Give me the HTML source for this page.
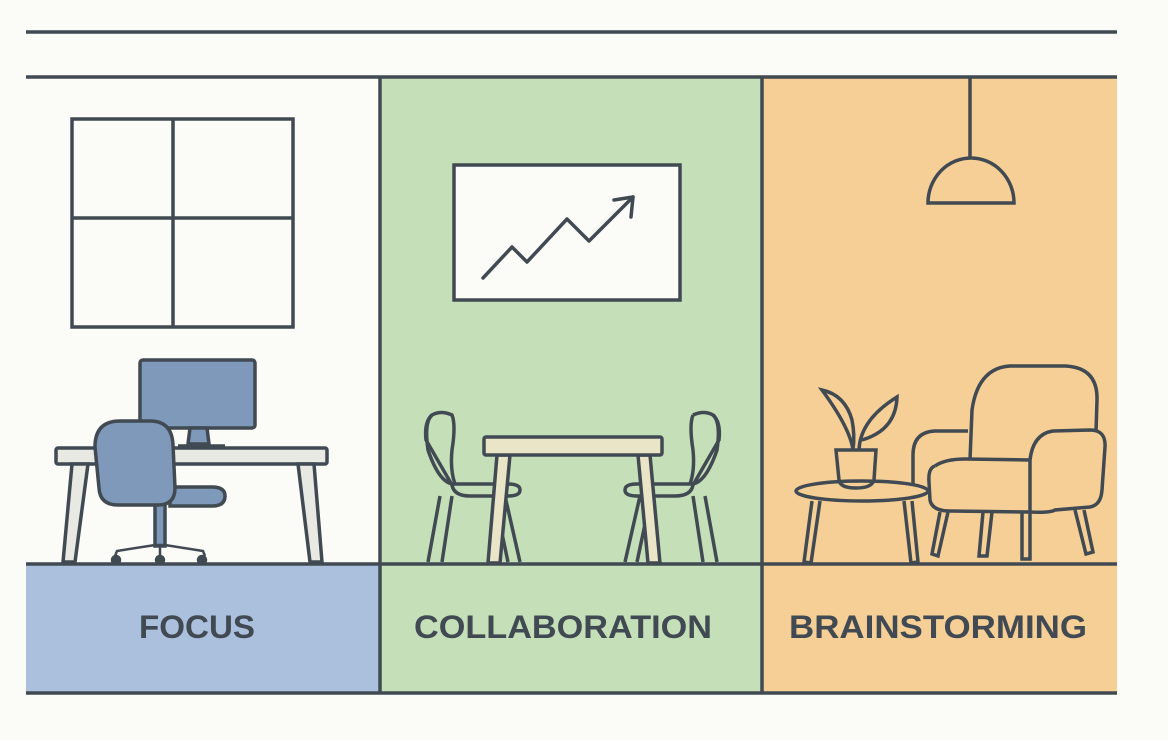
<!DOCTYPE html>
<html><head><meta charset="utf-8"><style>
html,body{margin:0;padding:0;background:#fbfbf7;}
svg{display:block}
text{font-family:"Liberation Sans",sans-serif;font-weight:bold;fill:#414a52;}
</style></head><body>
<svg width="1168" height="740" viewBox="0 0 1168 740" xmlns="http://www.w3.org/2000/svg">
<rect width="1168" height="740" fill="#fbfbf7"/>
<rect x="26" y="564" width="354" height="129" fill="#aac0dc"/>
<rect x="380" y="77" width="382" height="616" fill="#c5e0b8"/>
<rect x="762" y="77" width="355" height="616" fill="#f6cf96"/>
<g stroke="#414a52" stroke-width="3.5" fill="none">
<line x1="26" y1="32" x2="1117" y2="32"/>
<line x1="26" y1="77" x2="1117" y2="77"/>
<line x1="380" y1="77" x2="380" y2="693"/>
<line x1="762" y1="77" x2="762" y2="693"/>
<line x1="26" y1="564" x2="1117" y2="564"/>
<line x1="26" y1="693" x2="1117" y2="693"/>
<rect x="72" y="119" width="221" height="208"/>
<line x1="173" y1="119" x2="173" y2="327"/>
<line x1="72" y1="218" x2="293" y2="218"/>
<rect x="454" y="165" width="226" height="135" fill="#fbfbf7"/>
<polyline points="483,278 512,247 527,262 567,219 589,241 633,197" stroke-linejoin="round" stroke-linecap="round"/>
<polyline points="614,200 633,197 631,217" stroke-linecap="round" stroke-linejoin="round"/>
<line x1="970" y1="77" x2="970" y2="158"/>
<path d="M928,203 A42,44 0 0 1 1014,203 Z"/>
<rect x="140" y="360" width="115" height="68" rx="3" fill="#7f99bb"/>
<path d="M190,428 L207,428 L209,444 L188,444 Z" fill="#7f99bb"/>
<line x1="178" y1="446" x2="225" y2="446"/>
<rect x="56" y="448" width="271" height="16" rx="2" fill="#e8e9e3"/>
<path d="M72,464 L88,464 L75,562 L63,562 Z" fill="#e8e9e3"/>
<path d="M298,464 L314,464 L322,562 L310,562 Z" fill="#e8e9e3"/>
<rect x="155" y="504" width="10" height="42" fill="#7f99bb"/>
<path d="M115,556 L117,551 L155,545 L165,545 L203,551 L205,556 M160,546 L160,556" stroke-width="2.5"/>
<circle cx="116" cy="560" r="3.5" fill="#414a52"/>
<circle cx="160" cy="560" r="3.5" fill="#414a52"/>
<circle cx="202" cy="560" r="3.5" fill="#414a52"/>
<path d="M170,487 L212,487 Q225,487 225,496 Q225,506 212,506 L170,506 Z" fill="#7f99bb"/>
<path d="M120,421 L150,421 Q172,421 173,445 L175,488 Q175,505 158,505 L118,505 Q100,505 99,488 L95,447 Q95,421 120,421 Z" fill="#7f99bb"/>
<path d="M452,415 Q441,410 432,415 Q424,422 426,440 L452,485 Q454,496 470,496 L508,496 Q520,496 520,490 Q520,484 508,484 L455,484 Q450,470 452,450 Q456,425 452,415 Z"/>
<path d="M432,415 Q424,422 428,450 Q440,485 455,484"/>
<path d="M440,496 L428,562 M452,496 L442,562 M505,496 L520,562 M494,496 L508,562"/>
<path d="M693,415 Q704,410 713,415 Q721,422 719,440 L693,485"/>
<path d="M713,415 Q721,422 717,450 Q705,485 690,484 L637,484 Q625,484 625,490 Q625,496 637,496 L675,496 Q691,496 693,485"/>
<path d="M693,415 Q689,425 693,450 Q695,470 690,484"/>
<path d="M705,496 L717,562 M693,496 L703,562 M640,496 L625,562 M651,496 L637,562"/>
<path d="M497,455 L510,455 L500,563 L488,563 Z" fill="#ebe5c8"/>
<path d="M638,455 L650,455 L660,563 L648,563 Z" fill="#ebe5c8"/>
<rect x="484" y="437" width="178" height="18" rx="2" fill="#ebe5c8"/>
<ellipse cx="862" cy="491" rx="66" ry="10"/>
<path d="M812,501 L804,562 L811,563 L820,501 M904,501 L911,563 L918,562 L912,501"/>
<path d="M836,450 L876,450 L874,480 Q872,488 856,488 Q840,488 839,480 Z"/>
<path d="M853,450 Q850,428 822,390 Q845,395 852,420 Q855,435 853,450"/>
<path d="M859,450 Q860,420 897,397 Q896,430 862,440"/>
<path d="M970,460 L972,410 Q978,368 1010,366 L1066,366 Q1098,368 1097,400 L1096,432"/>
<path d="M968,431 L935,431 Q913,432 913,455 L913,484"/>
<path d="M935,466 Q928,468 929,482 L930,500 Q932,511 950,511 L1030,512 Q1050,513 1055,510 L1090,507 Q1101,505 1102,490 L1105,447 Q1106,430 1090,430 L1053,431 Q1033,434 1030,460 L1030,511"/>
<path d="M935,466 Q945,459 965,459 L1030,460"/>
<path d="M940,512 L932,554 L938,556 L948,512 M983,512 L979,556 L987,556 L992,512 M1022,512 L1022,559 L1030,559 L1030,512 M1075,510 L1086,554 L1093,552 L1084,510"/>
</g>
<text x="139" y="638" font-size="32" textLength="116" lengthAdjust="spacingAndGlyphs">FOCUS</text>
<text x="414" y="638" font-size="32" textLength="298" lengthAdjust="spacingAndGlyphs">COLLABORATION</text>
<text x="789" y="638" font-size="32" textLength="298" lengthAdjust="spacingAndGlyphs">BRAINSTORMING</text>
</svg>
</body></html>
